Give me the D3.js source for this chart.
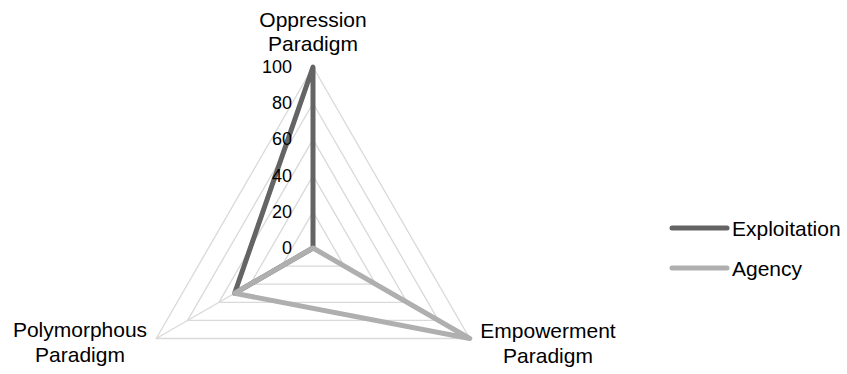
<!DOCTYPE html>
<html>
<head>
<meta charset="utf-8">
<script src="https://cdn.jsdelivr.net/npm/d3@7"></script>
<style>
  html, body { margin: 0; padding: 0; background: #fff; }
  svg { display: block; font-family: "Liberation Sans", Arial, sans-serif; }
</style>
</head>
<body>
<svg id="chart" width="847" height="374"></svg>
<script>
// Axes of the radar, clockwise from the top
const categories = [["Oppression", "Paradigm"], ["Empowerment", "Paradigm"], ["Polymorphous", "Paradigm"]];
const seriesNames = ["Exploitation", "Agency"];
const exploitation = [100, 0, 50];
const agency = [0, 100, 50];
const ticks = [0, 20, 40, 60, 80, 100];

const colors = ["#646464", "#afafaf"];
const svg = d3.select("#chart");
const cx = 313, cy = 248, R = 181;

const r = d3.scaleLinear().domain([0, 100]).range([0, R]);
const angle = d3.scaleLinear().domain([0, categories.length]).range([0, 2 * Math.PI]);

const g = svg.append("g").attr("transform", `translate(${cx},${cy})`);

// Grid rings (triangles) at each tick
const ring = d3.lineRadial().curve(d3.curveLinearClosed)
  .angle((d, i) => angle(i)).radius(d => r(d));
g.selectAll("path.ring").data(ticks.filter(t => t > 0)).join("path")
  .attr("class", "ring")
  .attr("d", t => ring(categories.map(() => t)))
  .attr("fill", "none").attr("stroke", "#d9d9d9").attr("stroke-width", 1.3);

// Spokes
g.selectAll("line.spoke").data(categories).join("line")
  .attr("class", "spoke")
  .attr("x1", 0).attr("y1", 0)
  .attr("x2", (d, i) => r(100) * Math.sin(angle(i)))
  .attr("y2", (d, i) => -r(100) * Math.cos(angle(i)))
  .attr("stroke", "#d9d9d9").attr("stroke-width", 1.3);

// Series polygons
const poly = d3.lineRadial().curve(d3.curveLinearClosed)
  .angle((d, i) => angle(i)).radius(d => r(d));
[exploitation, agency].forEach((vals, k) => {
  g.append("path")
    .attr("d", poly(vals))
    .attr("fill", "none")
    .attr("stroke", colors[k])
    .attr("stroke-width", 5)
    .attr("stroke-linejoin", "round");
});

// Tick labels along the top axis
g.selectAll("text.tick").data(ticks).join("text")
  .attr("class", "tick")
  .attr("x", -21).attr("y", t => -r(t))
  .attr("text-anchor", "end").attr("dominant-baseline", "central")
  .attr("font-size", 18).attr("fill", "#000")
  .text(t => t);

// Category labels
const labelPos = [
  { x: 0, y: -221, dy: 24 },
  { x: 235, y: 90, dy: 25 },
  { x: -233, y: 89, dy: 25 }
];
categories.forEach((lines, i) => {
  const p = labelPos[i];
  const t = g.append("text")
    .attr("x", p.x).attr("y", p.y)
    .attr("text-anchor", "middle")
    .attr("font-size", 21).attr("fill", "#000");
  lines.forEach((s, j) => t.append("tspan").attr("x", p.x).attr("dy", j === 0 ? 0 : p.dy).text(s));
});

// Legend
const legend = svg.append("g").attr("transform", "translate(672,228)");
seriesNames.forEach((name, k) => {
  const row = legend.append("g").attr("transform", `translate(0,${k * 40})`);
  row.append("line").attr("x1", 0).attr("x2", 55).attr("y1", 0).attr("y2", 0)
    .attr("stroke", colors[k]).attr("stroke-width", 5).attr("stroke-linecap", "round");
  row.append("text").attr("x", 60).attr("y", 0)
    .attr("dominant-baseline", "central")
    .attr("font-size", 21).attr("fill", "#000").text(name);
});
</script>
</body>
</html>
